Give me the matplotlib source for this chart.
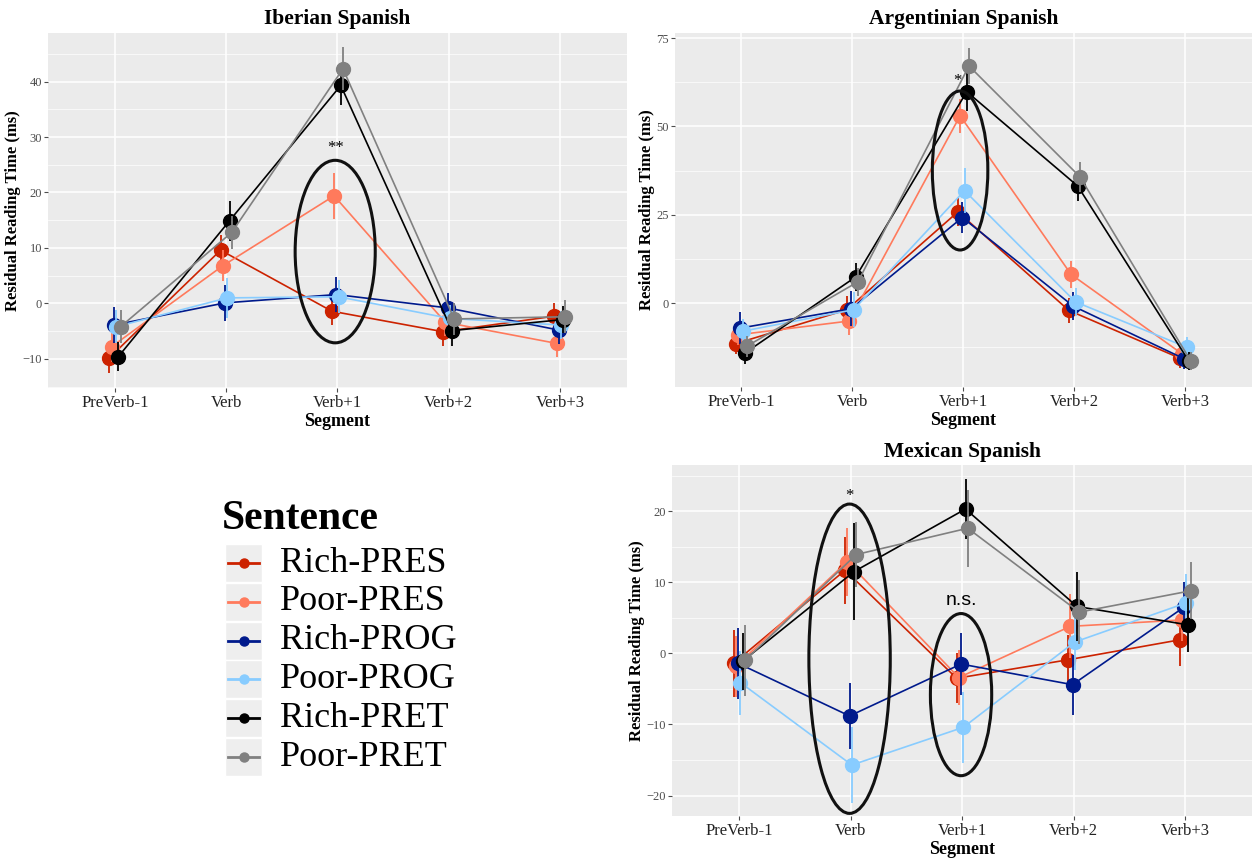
import numpy as np
import matplotlib
matplotlib.use("Agg")
import matplotlib.pyplot as plt
from matplotlib.patches import Ellipse, Rectangle
from matplotlib.ticker import MultipleLocator

plt.rcParams['font.family'] = ['Liberation Serif', 'DejaVu Serif']

segments = ['PreVerb-1', 'Verb', 'Verb+1', 'Verb+2', 'Verb+3']
sentences = ['Rich-PRES', 'Poor-PRES', 'Rich-PROG', 'Poor-PROG', 'Rich-PRET', 'Poor-PRET']
colors = ['#CC2200', '#FF7A5C', '#001A8C', '#88CCFF', '#000000', '#808080']

# Iberian Spanish: mean residual RT per sentence type, then error half-widths
iberian_mean = [
    [-9.8, 9.6, -1.4, -5.1, -2.3],
    [-7.8, 6.8, 19.4, -3.4, -7.2],
    [-3.9, 0.1, 1.6, -0.8, -4.8],
    [-4.2, 1.0, 1.2, -2.7, -3.9],
    [-9.6, 14.9, 39.3, -4.9, -2.9],
    [-4.2, 12.8, 42.3, -2.8, -2.4],
]
iberian_err = [
    [2.7, 2.7, 2.4, 2.5, 2.4],
    [2.8, 2.8, 4.1, 2.5, 2.5],
    [3.3, 3.2, 3.1, 2.7, 2.5],
    [3.0, 3.6, 3.0, 2.5, 2.5],
    [2.6, 3.6, 3.5, 2.8, 2.5],
    [3.0, 3.0, 3.9, 2.8, 3.0],
]

argentinian_mean = [
    [-11.5, -1.9, 25.8, -2.1, -15.6],
    [-9.0, -5.1, 53.0, 8.1, -14.4],
    [-7.1, -1.6, 24.2, -0.9, -15.8],
    [-8.0, -1.9, 31.8, 0.3, -12.5],
    [-14.2, 7.4, 59.8, 33.1, -16.4],
    [-12.2, 6.0, 67.1, 35.7, -16.5],
]
argentinian_err = [
    [3.0, 4.0, 4.0, 3.5, 2.8],
    [3.0, 4.0, 4.8, 3.8, 2.8],
    [4.5, 5.0, 4.5, 4.0, 2.8],
    [3.5, 5.0, 6.3, 4.0, 3.0],
    [3.0, 4.0, 5.5, 4.3, 2.5],
    [3.0, 4.0, 5.0, 4.2, 2.5],
]

mexican_mean = [
    [-1.4, 11.7, -3.5, -0.9, 1.9],
    [-1.8, 12.9, -3.4, 3.8, 4.7],
    [-1.4, -8.8, -1.5, -4.4, 6.5],
    [-4.1, -15.7, -10.4, 1.6, 7.1],
    [-1.1, 11.5, 20.3, 6.6, 4.0],
    [-1.0, 13.9, 17.6, 5.8, 8.8],
]
mexican_err = [
    [4.7, 4.7, 3.5, 3.5, 3.7],
    [4.3, 4.8, 3.9, 4.5, 3.0],
    [5.0, 4.7, 4.3, 4.2, 3.5],
    [4.5, 5.3, 5.0, 4.0, 4.0],
    [4.0, 6.8, 4.2, 4.8, 3.8],
    [5.0, 4.6, 5.4, 4.5, 4.0],
]

dodge = [-0.05, -0.03, -0.01, 0.01, 0.03, 0.05]


def panel(ax, title, means, errs, ylim, major, minor):
    ax.set_facecolor('#EBEBEB')
    x = np.arange(len(segments))
    for i in range(len(sentences)):
        xs = x + dodge[i]
        ax.errorbar(xs, means[i], yerr=errs[i], color=colors[i], lw=1.2,
                    elinewidth=1.3, capsize=0, marker='o', ms=10, zorder=3 + i)
    ax.set_xlim(-0.6, len(segments) - 0.4)
    ax.set_ylim(*ylim)
    ax.yaxis.set_major_locator(MultipleLocator(major))
    ax.yaxis.set_minor_locator(MultipleLocator(minor))
    ax.set_xticks(x)
    ax.set_xticklabels(segments, fontsize=12, color='#222222')
    ax.tick_params(axis='y', labelsize=9, labelcolor='#4D4D4D', color='#4D4D4D',
                   length=3, pad=1.5)
    ax.tick_params(axis='x', color='#4D4D4D', length=3, pad=2)
    ax.tick_params(which='minor', length=0)
    ax.grid(which='major', color='white', lw=1.1, zorder=0)
    ax.grid(which='minor', axis='y', color='white', lw=0.5, zorder=0)
    ax.set_axisbelow(True)
    for s in ax.spines.values():
        s.set_visible(False)
    ax.set_title(title, fontsize=15.5, fontweight='bold', pad=6)
    ax.set_xlabel('Segment', fontsize=13, fontweight='bold', labelpad=1)
    ax.set_ylabel('Residual Reading Time (ms)', fontsize=12, fontweight='bold',
                  labelpad=1)


fig = plt.figure(figsize=(12.52, 8.61), dpi=100)
ax1 = fig.add_axes([0.0385, 0.549, 0.462, 0.413])
ax2 = fig.add_axes([0.539, 0.550, 0.461, 0.412])
ax3 = fig.add_axes([0.537, 0.052, 0.463, 0.408])

panel(ax1, 'Iberian Spanish', iberian_mean, iberian_err, (-15.3, 48.8), 10, 5)
panel(ax2, 'Argentinian Spanish', argentinian_mean, argentinian_err, (-23.9, 76.5), 25, 12.5)
panel(ax3, 'Mexican Spanish', mexican_mean, mexican_err, (-22.9, 26.5), 10, 5)

# significance ellipses
ax1.add_patch(Ellipse((1.98, 9.35), 0.72, 32.9, fill=False, lw=2.2, ec='#111111', zorder=10))
ax1.text(1.98, 26.5, '**', ha='center', va='bottom', fontsize=12, zorder=10)
ax2.add_patch(Ellipse((1.97, 37.5), 0.5, 45, fill=False, lw=2.2, ec='#111111', zorder=10))
ax2.text(1.95, 60.5, '*', ha='center', va='bottom', fontsize=12, zorder=10)
ax3.add_patch(Ellipse((0.99, -0.75), 0.73, 43.5, fill=False, lw=2.2, ec='#111111', zorder=10))
ax3.text(0.99, 21.0, '*', ha='center', va='bottom', fontsize=12, zorder=10)
ax3.add_patch(Ellipse((1.99, -5.8), 0.55, 22.8, fill=False, lw=2.2, ec='#111111', zorder=10))
ax3.text(1.99, 6.3, 'n.s.', ha='center', va='bottom', fontsize=14,
         family=['Liberation Sans', 'DejaVu Sans'], zorder=10)

# legend drawn as its own little axes
lax = fig.add_axes([200 / 1252, 1 - 790 / 861, 280 / 1252, 300 / 861])
lax.set_xlim(200, 480)
lax.set_ylim(790, 490)
lax.axis('off')
lax.text(222, 519, 'Sentence', fontsize=30, fontweight='bold', va='center', ha='left')
for i, name in enumerate(sentences):
    yc = 563 + i * 38.8
    lax.add_patch(Rectangle((225, yc - 19), 37, 38, fc='#EEEEEE', ec='white', lw=1))
    lax.plot([228, 259], [yc, yc], color=colors[i], lw=2)
    lax.plot([243.5], [yc], 'o', color=colors[i], ms=6.5)
    lax.text(280, yc, name, fontsize=26, va='center', ha='left')

fig.savefig('out.png', dpi=100)
